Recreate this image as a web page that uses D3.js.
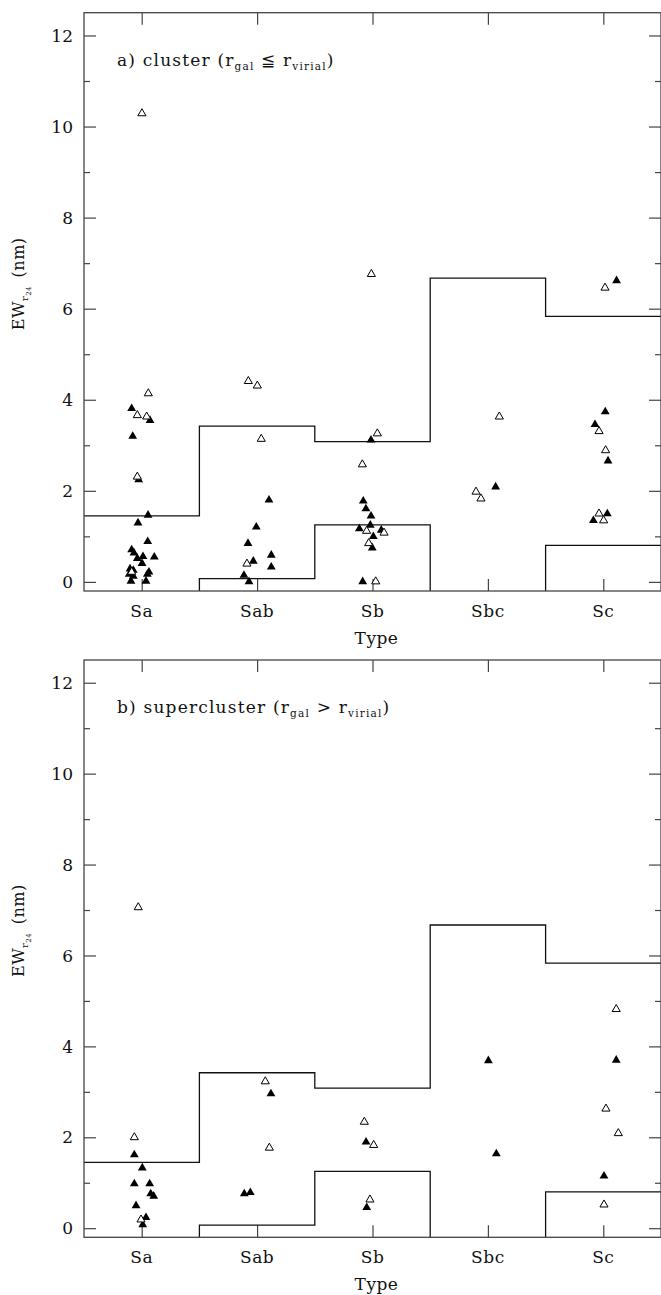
<!DOCTYPE html>
<meta charset="utf-8">
<head>
<style>
  body { margin: 0; background: #fff; }
  svg text { font-family: "DejaVu Serif", serif; fill: #111; }
</style>
</head>
<script src="https://d3js.org/d3.v7.min.js"></script>
<div id="ewPlot"></div>
<script>
    // morphological types along the x axis (positions 1..5)
    var types = ['Sa', 'Sab', 'Sb', 'Sbc', 'Sc'];
    var yTicks = [0, 2, 4, 6, 8, 10, 12];

    // envelope of field galaxies, one step per type
    var upperEnvelope = [1.45, 3.42, 3.08, 6.67, 5.83];
    var lowerEnvelope = [-0.5, 0.07, 1.25, -0.5, 0.80];

    // [type position (jittered), EW in nm]
    var clusterFilled = [
        [0.913, 3.83], [1.072, 3.57], [0.922, 3.22], [0.974, 2.27], [1.055, 1.49], [0.968, 1.32],
        [1.052, 0.91], [0.913, 0.73], [0.933, 0.66], [0.962, 0.54], [1.011, 0.58], [1.109, 0.57],
        [1.003, 0.43], [0.899, 0.31], [0.927, 0.28], [0.892, 0.19], [0.927, 0.15], [1.063, 0.24],
        [1.049, 0.19], [0.907, 0.04], [1.037, 0.04],
        [2.103, 1.82], [1.993, 1.23], [1.921, 0.87], [2.123, 0.61], [1.967, 0.48], [2.123, 0.35],
        [1.886, 0.17], [1.930, 0.03],
        [2.987, 3.14], [2.920, 1.80], [2.943, 1.63], [2.987, 1.47], [2.981, 1.27], [2.886, 1.19],
        [3.076, 1.16], [3.007, 1.02], [2.998, 0.77], [2.915, 0.03],
        [4.067, 2.11],
        [5.115, 6.64], [5.017, 3.76], [4.928, 3.48], [5.041, 2.68], [5.035, 1.52], [4.914, 1.37]
    ];
    var clusterOpen = [
        [1.002, 10.31], [1.057, 4.16], [0.962, 3.68], [1.043, 3.65], [0.962, 2.33], [0.913, 0.24],
        [1.924, 4.43], [2.002, 4.33], [2.036, 3.16], [1.912, 0.42],
        [2.990, 6.78], [3.042, 3.28], [2.912, 2.60], [2.949, 1.14], [3.100, 1.10], [2.967, 0.87], [3.028, 0.03],
        [4.099, 3.65], [3.897, 2.00], [3.940, 1.85],
        [5.015, 6.48], [4.963, 3.33], [5.020, 2.91], [4.963, 1.52], [5.003, 1.37]
    ];
    var superFilled = [
        [0.936, 1.64], [1.005, 1.35], [0.936, 1.00], [1.069, 1.00], [1.078, 0.78], [1.104, 0.73],
        [0.951, 0.52], [1.037, 0.26], [1.009, 0.10],
        [2.120, 2.98], [1.889, 0.78], [1.941, 0.81],
        [2.944, 1.92], [2.950, 0.48],
        [4.004, 3.71], [4.073, 1.66],
        [5.112, 3.72], [5.006, 1.17]
    ];
    var superOpen = [
        [0.970, 7.08], [0.936, 2.02], [0.994, 0.21],
        [2.071, 3.25], [2.106, 1.79],
        [2.929, 2.36], [3.010, 1.85], [2.978, 0.65],
        [5.112, 4.84], [5.023, 2.65], [5.130, 2.11], [5.006, 0.54]
    ];

    var width = 661, height = 1295,
        frameLeft = 84, frameRight = 661,
        frameColor = '#444';

    var svg = d3.select('#ewPlot').append('svg')
        .attr('width', width)
        .attr('height', height);

    var xScale = d3.scaleLinear()
        .domain([0.5, 5.5])
        .range([frameLeft, frameRight]);

    // small triangle, drawn around its centre
    function tri(s) {
        return 'M0,' + (-s * 0.5) + 'L' + (s * 0.55) + ',' + (s * 0.45) + 'L' + (-s * 0.55) + ',' + (s * 0.45) + 'Z';
    }

    drawPanel(12.7, 591, 'a) cluster (', '\u2266', 'cluster', clusterFilled, clusterOpen);
    drawPanel(660, 1237.3, 'b) supercluster (', '>', 'super', superFilled, superOpen);

    function drawPanel(top, bottom, title, relation, id, filled, open) {
        var yScale = d3.scaleLinear()
            .domain([-0.2, 12.5])
            .range([bottom, top]);

        var g = svg.append('g');

        g.append('clipPath').attr('id', 'clip-' + id)
            .append('rect')
            .attr('x', frameLeft).attr('y', top)
            .attr('width', frameRight - frameLeft).attr('height', bottom - top);

        // left axis with labels, right axis ticks only
        var minor = d3.range(1, 13, 2);
        g.append('g')
            .attr('transform', 'translate(' + frameLeft + ',0)')
            .call(d3.axisRight(yScale).tickValues(yTicks).tickSize(12).tickFormat(''))
            .call(a => a.select('.domain').remove());
        g.append('g')
            .attr('transform', 'translate(' + frameLeft + ',0)')
            .call(d3.axisRight(yScale).tickValues(minor).tickSize(6).tickFormat(''))
            .call(a => a.select('.domain').remove());
        g.append('g')
            .attr('transform', 'translate(' + frameRight + ',0)')
            .call(d3.axisLeft(yScale).tickValues(yTicks).tickSize(12).tickFormat(''))
            .call(a => a.select('.domain').remove());
        g.append('g')
            .attr('transform', 'translate(' + frameRight + ',0)')
            .call(d3.axisLeft(yScale).tickValues(minor).tickSize(6).tickFormat(''))
            .call(a => a.select('.domain').remove());

        // category ticks on top and bottom
        var cats = types.map((t, i) => i + 1);
        g.append('g')
            .attr('transform', 'translate(0,' + bottom + ')')
            .call(d3.axisTop(xScale).tickValues(cats).tickSize(12).tickFormat(''))
            .call(a => a.select('.domain').remove());
        g.append('g')
            .attr('transform', 'translate(0,' + top + ')')
            .call(d3.axisBottom(xScale).tickValues(cats).tickSize(12).tickFormat(''))
            .call(a => a.select('.domain').remove());

        g.selectAll('.tick line').attr('stroke', frameColor).attr('stroke-width', 1.2);

        g.selectAll('.ylab').data(yTicks).enter().append('text')
            .attr('x', 73)
            .attr('y', d => yScale(d))
            .attr('dy', '0.36em')
            .attr('text-anchor', 'end')
            .style('font-size', '17px')
            .text(d => d);

        g.selectAll('.xlab').data(types).enter().append('text')
            .attr('x', (d, i) => xScale(i + 1))
            .attr('y', bottom + 26)
            .attr('text-anchor', 'middle')
            .style('font-size', '17px')
            .style('letter-spacing', '0.5px')
            .text(d => d);

        g.append('text')
            .attr('x', (frameLeft + frameRight) / 2 + 4)
            .attr('y', bottom + 53)
            .attr('text-anchor', 'middle')
            .style('font-size', '17px')
            .style('letter-spacing', '0.5px')
            .text('Type');

        // y label: EW_{r_24} (nm)
        var yl = g.append('text')
            .attr('transform', 'translate(24,' + ((top + bottom) / 2 - 18) + ') rotate(-90)')
            .attr('text-anchor', 'middle')
            .style('font-size', '16px')
            .style('letter-spacing', '0.5px');
        yl.append('tspan').text('EW');
        yl.append('tspan').attr('dy', 4).style('font-size', '10px').text('r');
        yl.append('tspan').attr('dy', 3).style('font-size', '7px').text('24');
        yl.append('tspan').attr('dy', -7).text('\u2002(nm)');

        // panel title with subscripts
        var tt = g.append('text')
            .attr('x', 117)
            .attr('y', top + 53)
            .style('font-size', '17px')
            .style('letter-spacing', '1.2px');
        tt.append('tspan').text(title + 'r');
        tt.append('tspan').attr('dy', 4).style('font-size', '10.5px').text('gal');
        tt.append('tspan').attr('dy', -4).text(' ' + relation + ' r');
        tt.append('tspan').attr('dy', 4).style('font-size', '10.5px').text('virial');
        tt.append('tspan').attr('dy', -4).text(')');

        // step envelopes
        var stepLine = d3.line()
            .x(d => xScale(d[0]))
            .y(d => yScale(d[1]))
            .curve(d3.curveStepAfter);
        [upperEnvelope, lowerEnvelope].forEach(env => {
            var pts = env.map((v, i) => [i + 0.5, v]);
            pts.push([5.5, env[env.length - 1]]);
            g.append('path')
                .attr('d', stepLine(pts))
                .attr('clip-path', 'url(#clip-' + id + ')')
                .attr('fill', 'none')
                .attr('stroke', '#111')
                .attr('stroke-width', 1.3);
        });

        g.selectAll('.filled').data(filled).enter().append('path')
            .attr('d', tri(8))
            .attr('transform', d => 'translate(' + xScale(d[0]) + ',' + yScale(d[1]) + ')')
            .attr('fill', '#000');

        g.selectAll('.open').data(open).enter().append('path')
            .attr('d', tri(7.4))
            .attr('transform', d => 'translate(' + xScale(d[0]) + ',' + yScale(d[1]) + ')')
            .attr('fill', '#fff')
            .attr('stroke', '#000')
            .attr('stroke-width', 1);

        // frame
        g.append('rect')
            .attr('x', frameLeft).attr('y', top)
            .attr('width', frameRight - frameLeft).attr('height', bottom - top)
            .attr('fill', 'none')
            .attr('stroke', frameColor)
            .attr('stroke-width', 1.3);
    }
</script>
